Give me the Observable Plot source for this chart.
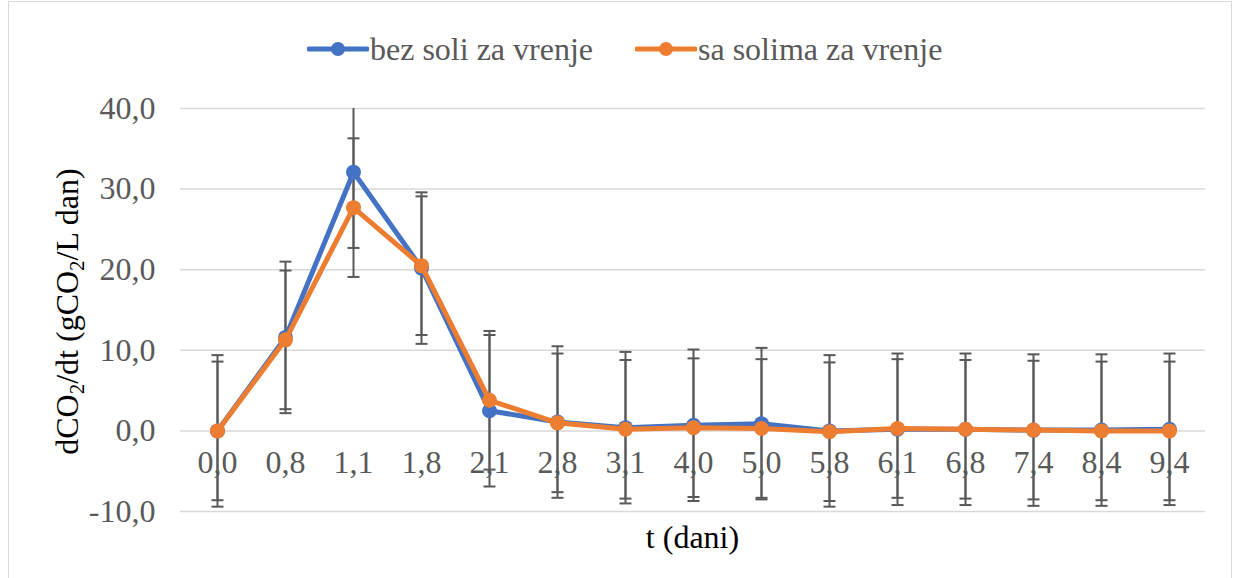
<!DOCTYPE html>
<html>
<head>
<meta charset="utf-8">
<script src="https://cdn.jsdelivr.net/npm/d3@7"></script>
<script src="https://cdn.jsdelivr.net/npm/@observablehq/plot@0.6"></script>
<style>
  html, body { margin: 0; padding: 0; background: #fff; }
  #wrap { position: relative; width: 1236px; height: 578px; overflow: hidden; font-family: "Liberation Serif", "Times New Roman", serif; }
  #frame { position: absolute; left: 8px; top: 1px; width: 1224px; height: 600px; border: 1.5px solid #d9d9d9; box-sizing: border-box; }
  .leg { position: absolute; display: flex; align-items: center; height: 32px; font-size: 32px; line-height: 32px; color: #595959; white-space: nowrap; font-family: "Liberation Serif", "Times New Roman", serif; }
  .leg svg { display: block; margin-right: 1px; }
  #chart { position: absolute; left: 0; top: 0; }
</style>
</head>
<body>
<div id="wrap">
  <div id="frame"></div>
  <div id="chart"></div>
  <div id="legend"></div>
</div>
<script>
// ---- data ----
const categories = ["0,0", "0,8", "1,1", "1,8", "2,1", "2,8", "3,1", "4,0", "5,0", "5,8", "6,1", "6,8", "7,4", "8,4", "9,4"];
const bezSoli    = [0.0, 11.6, 32.1, 20.2, 2.5, 1.1, 0.4, 0.7, 0.9, 0.0, 0.2, 0.2, 0.1, 0.1, 0.2];
const saSolima   = [0.0, 11.3, 27.7, 20.5, 3.8, 1.0, 0.2, 0.4, 0.3, -0.1, 0.3, 0.2, 0.1, 0.0, 0.0];
const bezSoliErr  = [9.4, 9.4, 9.4, 9.4, 9.4, 9.4, 9.4, 9.4, 9.4, 9.4, 9.4, 9.4, 9.4, 9.4, 9.4];
const saSolimaErr = [8.6, 8.6, 8.6, 8.6, 8.6, 8.6, 8.6, 8.6, 8.6, 8.6, 8.6, 8.6, 8.6, 8.6, 8.6];
const yTicks = [-10, 0, 10, 20, 30, 40];
const seriesNames = ["bez soli za vrenje", "sa solima za vrenje"];
const seriesColors = ["#4472C4", "#ED7D31"];

// ---- table ----
const rowsBlue = categories.map((t, i) => ({t, v: bezSoli[i], e: bezSoliErr[i], s: seriesNames[0]}));
const rowsOrange = categories.map((t, i) => ({t, v: saSolima[i], e: saSolimaErr[i], s: seriesNames[1]}));
const allRows = rowsBlue.concat(rowsOrange);
const capRows = allRows.flatMap(d => [{t: d.t, y: d.v + d.e}, {t: d.t, y: d.v - d.e}]);

const capSymbol = {
  draw(context) { context.moveTo(-6, 0); context.lineTo(6, 0); }
};
const fmt = d => d.toFixed(1).replace(".", ",");
const grey = "#595959";
const serif = "'Liberation Serif', 'Times New Roman', serif";

const plot = Plot.plot({
  width: 1236,
  height: 578,
  marginLeft: 180,
  marginRight: 31,
  marginTop: 108,
  marginBottom: 67,
  style: {fontFamily: serif, color: grey, background: "transparent"},
  x: {type: "point", domain: categories, padding: 0.5, axis: null},
  y: {domain: [-10, 40], axis: null},
  marks: [
    Plot.gridY(yTicks, {stroke: "#d9d9d9", strokeOpacity: 1, strokeWidth: 1.5}),
    Plot.axisY(yTicks, {tickSize: 0, tickPadding: 25, tickFormat: fmt, fontSize: 32, fill: grey, label: null}),
    Plot.text(categories, {x: d => d, y: 0, dy: 32, text: d => d, fontSize: 32, fill: grey}),
    Plot.ruleX(allRows, {x: "t", y1: d => d.v - d.e, y2: d => d.v + d.e, stroke: grey, strokeWidth: 2, clip: true}),
    Plot.dot(capRows, {x: "t", y: "y", symbol: capSymbol, r: 3, fill: "none", stroke: grey, strokeWidth: 2, clip: true}),
    Plot.line(rowsBlue, {x: "t", y: "v", stroke: seriesColors[0], strokeWidth: 5, strokeLinejoin: "round", strokeLinecap: "round"}),
    Plot.dot(rowsBlue, {x: "t", y: "v", r: 7.5, fill: seriesColors[0], stroke: "none"}),
    Plot.line(rowsOrange, {x: "t", y: "v", stroke: seriesColors[1], strokeWidth: 5, strokeLinejoin: "round", strokeLinecap: "round"}),
    Plot.dot(rowsOrange, {x: "t", y: "v", r: 7.5, fill: seriesColors[1], stroke: "none"})
  ]
});
document.getElementById("chart").appendChild(plot);

// axis titles
const svg = d3.select(plot);
const xs = plot.scale("x").range;
const ys = plot.scale("y").range;
svg.append("text")
  .attr("x", (xs[0] + xs[1]) / 2)
  .attr("y", ys[0] + 37)
  .attr("text-anchor", "middle")
  .attr("font-size", 32)
  .attr("font-family", serif)
  .attr("fill", "#000")
  .text("t (dani)");

const yl = svg.append("text")
  .attr("transform", `translate(78, ${(ys[0] + ys[1]) / 2 + 2}) rotate(-90)`)
  .attr("text-anchor", "middle")
  .attr("font-size", 32)
  .attr("font-family", serif)
  .attr("fill", "#000");
yl.append("tspan").text("dCO");
yl.append("tspan").attr("font-size", 21).attr("dy", 6).text("2");
yl.append("tspan").attr("dy", -6).text("/dt (gCO");
yl.append("tspan").attr("font-size", 21).attr("dy", 6).text("2");
yl.append("tspan").attr("dy", -6).text("/L dan)");

// legend
const legend = document.getElementById("legend");
const legendLeft = [307, 635];
seriesNames.forEach((name, i) => {
  const item = document.createElement("div");
  item.className = "leg";
  item.style.left = legendLeft[i] + "px";
  item.style.top = (49 - 16) + "px";
  item.innerHTML = `<svg width="62" height="20"><line x1="2" x2="60" y1="10" y2="10" stroke="${seriesColors[i]}" stroke-width="5" stroke-linecap="round"/><circle cx="31" cy="10" r="7" fill="${seriesColors[i]}"/></svg><span>${name}</span>`;
  legend.appendChild(item);
});
</script>
</body>
</html>
